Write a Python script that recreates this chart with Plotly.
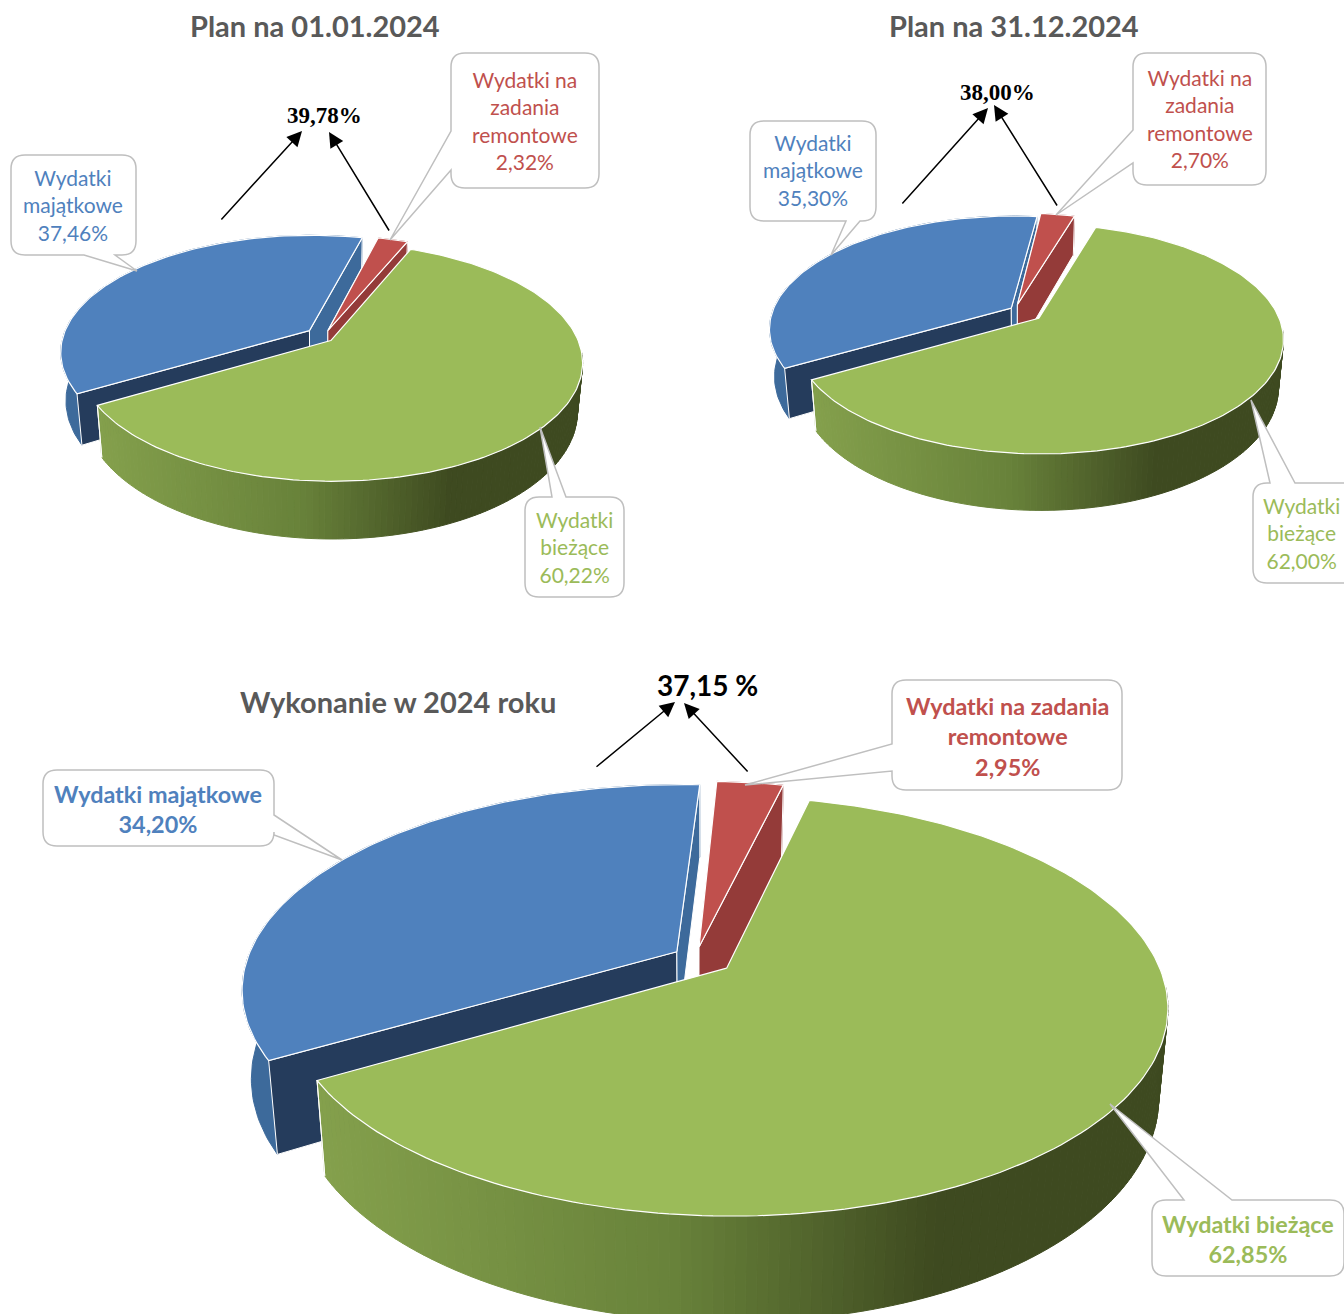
import math
import plotly.graph_objects as go

# ---------- data ----------
categories = ["Wydatki majątkowe", "Wydatki na zadania remontowe", "Wydatki bieżące"]
plan_start_values = [37.46, 2.32, 60.22]
plan_end_values = [35.30, 2.70, 62.00]
actual_values = [34.20, 2.95, 62.85]
sum_labels = ["39,78%", "38,00%", "37,15 %"]
titles = ["Plan na 01.01.2024", "Plan na 31.12.2024", "Wykonanie w 2024 roku"]

# ---------- style ----------
TOP = ["#4F81BD", "#C0504D", "#9BBB59"]
END_WALL = ["#253C5C", "#943B39", "#9BBB59"]
START_WALL = ["#3D6A9B", "#943B39", "#9BBB59"]
TEXT = ["#4F81BD", "#C0504D", "#9BBB59"]
GRAD = [(0.0, (132, 160, 76)), (0.42, (104, 130, 58)), (0.73, (62, 74, 32)), (1.0, (62, 74, 32))]

# cx, cy, R, Ry, persp, depth, start angle, explode per slice, pixel nudge per slice
PIES = [
    dict(v=plan_start_values, cx=322, cy=334, R=246, Ry=114, k=.18, D=47, start=239.3,
         e=[.064, .05, .047], nudge=[(0, 1), (2, 2), (0, 3)]),
    dict(v=plan_end_values, cx=1026, cy=312, R=239, Ry=110, k=.18, D=46, start=239.7,
         e=[.064, .05, .047], nudge=[(-2, 0), (-11, -2), (4, 3)]),
    dict(v=actual_values, cx=700, cy=960, R=430, Ry=200, k=.18, D=86, start=239.8,
         e=[.08, .066, .068], nudge=[(6, 0), (-5, 0), (3, 0)]),
]


def proj(p, th, off, z=0.0, rad=1.0, nudge=(0, 0)):
    t = math.radians(th)
    u = off[0] + rad * math.sin(t)
    v = off[1] - rad * math.cos(t)
    s = 1 / (1 - p["k"] * v)
    b = 1 - 0.02 * z
    return (p["cx"] + nudge[0] + p["R"] * u * s * b,
            p["cy"] + nudge[1] + (p["Ry"] * v + p["D"] * z) * s)


def poly(fig, pts, fill, line=None, width=1.0):
    xs = [q[0] for q in pts] + [pts[0][0]]
    ys = [q[1] for q in pts] + [pts[0][1]]
    fig.add_trace(go.Scatter(x=xs, y=ys, mode="lines", fill="toself", fillcolor=fill,
                             line=dict(color=line or fill, width=width),
                             hoverinfo="skip", showlegend=False))


def grad(t):
    t = max(0, min(1, t))
    for (a, ca), (b, cb) in zip(GRAD, GRAD[1:]):
        if t <= b:
            f = (t - a) / (b - a)
            return "rgb(%d,%d,%d)" % tuple(round(ca[i] + (cb[i] - ca[i]) * f) for i in range(3))
    return "rgb(62,74,32)"


fig = go.Figure()

for p in PIES:
    total = sum(p["v"])
    th = p["start"]
    for i, val in enumerate(p["v"]):
        span = val / total * 360
        a0, a1 = th, th + span
        th = a1
        mid = math.radians((a0 + a1) / 2)
        off = (p["e"][i] * math.sin(mid), -p["e"][i] * math.cos(mid))
        nd = p["nudge"][i]
        n = max(4, int(span / 1.2))
        angs = [a0 + (a1 - a0) * j / n for j in range(n + 1)]
        P = lambda a, z=0.0, rad=1.0: proj(p, a, off, z, rad, nd)
        # outer wall
        if i == 2:
            xl = P(a1)[0]
            xr = P(95)[0]
            for j in range(n):
                if 0 <= (angs[j] + 360) % 360 <= 95:
                    continue  # back right part lies under the top face
                if angs[j] % 360 > 245:
                    continue
                q = [P(angs[j]), P(angs[j + 1]), P(angs[j + 1], 1), P(angs[j], 1)]
                xm = (q[0][0] + q[1][0]) / 2
                poly(fig, q, grad((xm - xl) / (xr - xl)))
            poly(fig, [P(a1), P(a1, 1)], "rgba(0,0,0,0)", "white", 1)
        else:
            q = [P(a) for a in angs] + [P(a, 1) for a in reversed(angs)]
            poly(fig, q, START_WALL[i])
        # radial walls
        apex = P(0, 0, 0)
        apexb = P(0, 1, 0)
        if i < 2:
            poly(fig, [apex, P(a0), P(a0, 1), apexb], END_WALL[i], "white", 1)
            poly(fig, [apex, P(a1), P(a1, 1), apexb], START_WALL[i], "white", 1)
        # top
        poly(fig, [apex] + [P(a) for a in angs], TOP[i], "white", 1.2)


def callout(x0, y0, x1, y1, r, side, a, b, tip):
    d = f"M{x0+r},{y0} "
    if side == "top":
        d += f"L{a},{y0} L{tip[0]},{tip[1]} L{b},{y0} "
    d += f"L{x1-r},{y0} Q{x1},{y0} {x1},{y0+r} "
    if side == "right":
        d += f"L{x1},{a} L{tip[0]},{tip[1]} L{x1},{b} "
    d += f"L{x1},{y1-r} Q{x1},{y1} {x1-r},{y1} "
    if side == "bottom":
        d += f"L{b},{y1} L{tip[0]},{tip[1]} L{a},{y1} "
    d += f"L{x0+r},{y1} Q{x0},{y1} {x0},{y1-r} "
    if side == "left":
        d += f"L{x0},{b} L{tip[0]},{tip[1]} L{x0},{a} "
    d += f"L{x0},{y0+r} Q{x0},{y0} {x0+r},{y0} Z"
    return dict(type="path", path=d, xref="x", yref="y", fillcolor="white",
                line=dict(color="#BFBFBF", width=1.5), layer="above")


fmt = lambda x: f"{x:.2f}".replace(".", ",") + "%"

CALLOUTS = [
    # box, side, tail base, tip, text centre, text, colour index, size, bold
    ((11, 155, 136, 255), "bottom", 84, 115, (137, 271), (73, 205), "Wydatki<br>majątkowe<br>" + fmt(plan_start_values[0]), 0, 21, False),
    ((451, 53, 599, 188), "left", 131, 170, (390, 240), (525, 120), "Wydatki na<br>zadania<br>remontowe<br>" + fmt(plan_start_values[1]), 1, 21, False),
    ((525, 497, 624, 597), "top", 552, 566, (540, 427), (574, 547), "Wydatki<br>bieżące<br>" + fmt(plan_start_values[2]), 2, 21, False),
    ((750, 121, 876, 221), "bottom", 846, 860, (831, 255), (813, 170), "Wydatki<br>majątkowe<br>" + fmt(plan_end_values[0]), 0, 21, False),
    ((1133, 53, 1266, 185), "left", 130, 163, (1056, 215), (1200, 118), "Wydatki na<br>zadania<br>remontowe<br>" + fmt(plan_end_values[1]), 1, 21, False),
    ((1253, 483, 1360, 583), "top", 1270, 1295, (1251, 400), (1301, 533), "Wydatki<br>bieżące<br>" + fmt(plan_end_values[2]), 2, 21, False),
    ((43, 770, 274, 846), "right", 815, 835, (342, 860), (158, 809), "Wydatki majątkowe<br>" + fmt(actual_values[0]), 0, 23.4, True),
    ((892, 680, 1122, 790), "left", 744, 771, (745, 785), (1007, 736), "Wydatki na zadania<br>remontowe<br>" + fmt(actual_values[1]), 1, 23.4, True),
    ((1152, 1200, 1344, 1276), "top", 1184, 1232, (1110, 1104), (1248, 1239), "Wydatki bieżące<br>" + fmt(actual_values[2]), 2, 23.4, True),
]

shapes, annotations = [], []
for box, side, a, b, tip, c, txt, col, size, bold in CALLOUTS:
    shapes.append(callout(*box, 14, side, a, b, tip))
    annotations.append(dict(x=c[0], y=c[1], text=f"<b>{txt}</b>" if bold else txt, showarrow=False,
                            xref="x", yref="y", xanchor="center", yanchor="middle",
                            font=dict(family="Lato", size=size, color=TEXT[col])))

ARROWS = [
    ((220, 221), (302, 131)), ((390, 232), (329, 132)),
    ((901, 205), (988, 108)), ((1058, 207), (994, 105)),
    ((595, 768), (675, 702)), ((749, 773), (684, 703)),
]
for (ax, ay), (x, y) in ARROWS:
    annotations.append(dict(x=x, y=y, ax=ax, ay=ay, xref="x", yref="y", axref="x", ayref="y",
                            text="", showarrow=True, arrowhead=2, arrowsize=2, arrowwidth=1.5,
                            arrowcolor="black"))

for (x, y), t, fam, size in zip([(324, 115), (997, 92), (707, 685)], sum_labels,
                                ["Liberation Serif", "Liberation Serif", "Lato"], [23, 23, 28]):
    annotations.append(dict(x=x, y=y, text=f"<b>{t}</b>", showarrow=False, xref="x", yref="y",
                            font=dict(family=fam, size=size, color="black")))

for (x, y), t, size in zip([(315, 25), (1014, 25), (398, 701)], titles, [29, 29, 29]):
    annotations.append(dict(x=x, y=y, text=f"<b>{t}</b>", showarrow=False, xref="x", yref="y",
                            font=dict(family="Lato", size=size, color="#595959")))

fig.update_layout(
    width=1344, height=1314, margin=dict(l=0, r=0, t=0, b=0),
    paper_bgcolor="white", plot_bgcolor="white", showlegend=False,
    xaxis=dict(range=[0, 1344], visible=False, fixedrange=True),
    yaxis=dict(range=[1314, 0], visible=False, fixedrange=True),
    shapes=shapes, annotations=annotations,
)
fig.write_html("out.html", config=dict(displayModeBar=False),
               post_script="document.body.style.margin='0';")
